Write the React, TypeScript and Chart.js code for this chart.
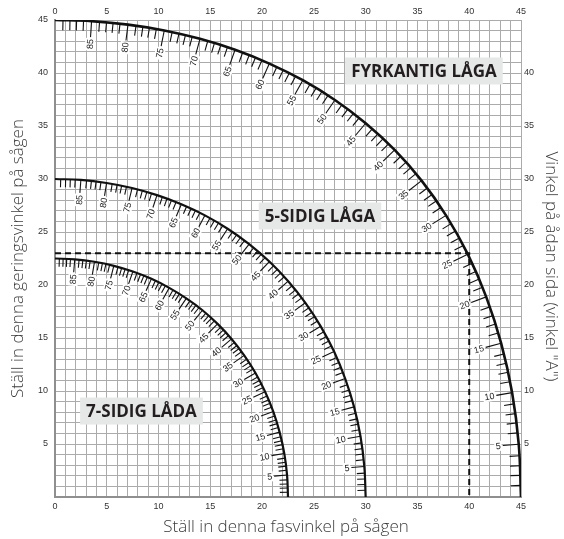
import { useEffect, useRef } from 'react';
import { Chart, registerables } from 'chart.js';

Chart.register(...registerables);

// Side angle "A" (degrees) for each read point along the curves
const sideAngles = [0, 5, 10, 15, 20, 25, 30, 35, 40, 45, 50, 55, 60, 65, 70, 75, 80, 85, 90];

// FYRKANTIG LÅGA (outer curve)
const squareX = [45.0, 44.78, 44.14, 43.08, 41.64, 39.86, 37.76, 35.4, 32.8, 30.0, 27.03, 23.93, 20.7, 17.39, 14.0, 10.55, 7.05, 3.53, 0];
const squareY = [0, 4.98, 9.85, 14.51, 18.88, 22.91, 26.57, 29.85, 32.74, 35.26, 37.45, 39.32, 40.89, 42.19, 43.22, 44.01, 44.56, 44.89, 45];

// 5-SIDIG LÅGA (middle curve)
const fiveX = [30, 29.87, 29.5, 28.88, 28.02, 26.95, 25.66, 24.18, 22.52, 20.7, 18.75, 16.67, 14.48, 12.2, 9.85, 7.44, 4.98, 2.5, 0];
const fiveY = [0, 2.88, 5.73, 8.5, 11.17, 13.72, 16.1, 18.32, 20.36, 22.21, 23.86, 25.31, 26.57, 27.62, 28.48, 29.15, 29.62, 29.91, 30];

// 7-SIDIG LÅDA (inner curve)
const sevenX = [22.5, 22.41, 22.14, 21.69, 21.08, 20.29, 19.36, 18.27, 17.05, 15.7, 14.24, 12.68, 11.03, 9.31, 7.52, 5.68, 3.81, 1.91, 0];
const sevenY = [0, 2.07, 4.11, 6.12, 8.06, 9.93, 11.7, 13.36, 14.91, 16.33, 17.62, 18.74, 19.73, 20.58, 21.27, 21.81, 22.19, 22.42, 22.5];

// Dashed example reading
const guideX = [0, 40, 40];
const guideY = [23, 23, 0];

// Axis tick labels
const bottomTicks = [0, 5, 10, 15, 20, 25, 30, 35, 40, 45];
const topTicks = [0, 5, 10, 15, 20, 25, 30, 35, 40, 45];
const leftTicks = [5, 10, 15, 20, 25, 30, 35, 40, 45];
const rightTicks = [5, 10, 15, 20, 25, 30, 35, 40];

// Curve names
const curveNames = ['FYRKANTIG LÅGA', '5-SIDIG LÅGA', '7-SIDIG LÅDA'];
const nameAnchorX = [35.63, 25.59, 8.35];
const nameAnchorY = [40.19, 26.51, 8.11];

const xTitle = 'Ställ in denna fasvinkel på sågen';
const yTitle = 'Ställ in denna geringsvinkel på sågen';
const y2Title = 'Vinkel på ådan sida (vinkel "A")';

const toPoints = (xs: number[], ys: number[]) => xs.map((x, i) => ({ x, y: ys[i] }));

const curveStyle = [
  { width: 2.6, minor: 10, major: 16 },
  { width: 2.2, minor: 8, major: 13 },
  { width: 2.2, minor: 8, major: 13 },
];

const gradPlugin = {
  id: 'graduations',
  afterDatasetsDraw(chart: any) {
    const ctx = chart.ctx as CanvasRenderingContext2D;
    for (let di = 0; di < 3; di++) {
      const meta = chart.getDatasetMeta(di);
      const pts = meta.data as any[];
      const st = curveStyle[di];
      ctx.save();
      ctx.strokeStyle = '#111';
      ctx.lineWidth = 1.1;
      for (let i = 0; i < pts.length - 1; i++) {
        const p0 = pts[i];
        const p3 = pts[i + 1];
        const c1 = { x: p0.cp2x ?? p0.x, y: p0.cp2y ?? p0.y };
        const c2 = { x: p3.cp1x ?? p3.x, y: p3.cp1y ?? p3.y };
        for (let k = 0; k < 5; k++) {
          if (i === 0 && k === 0) continue;
          const t = k / 5;
          const u = 1 - t;
          const px = u * u * u * p0.x + 3 * u * u * t * c1.x + 3 * u * t * t * c2.x + t * t * t * p3.x;
          const py = u * u * u * p0.y + 3 * u * u * t * c1.y + 3 * u * t * t * c2.y + t * t * t * p3.y;
          let dx = 3 * u * u * (c1.x - p0.x) + 6 * u * t * (c2.x - c1.x) + 3 * t * t * (p3.x - c2.x);
          let dy = 3 * u * u * (c1.y - p0.y) + 6 * u * t * (c2.y - c1.y) + 3 * t * t * (p3.y - c2.y);
          let len = Math.hypot(dx, dy);
          if (len < 1e-6) {
            dx = p3.x - p0.x;
            dy = p3.y - p0.y;
            len = Math.hypot(dx, dy);
          }
          const nx = dy / len;
          const ny = -dx / len;
          const isMajor = k === 0;
          const L = isMajor ? st.major : st.minor;
          ctx.beginPath();
          ctx.moveTo(px, py);
          ctx.lineTo(px + nx * L, py + ny * L);
          ctx.stroke();
          if (isMajor) {
            const label = String(sideAngles[i]);
            const ox = px + nx * (L + 2);
            const oy = py + ny * (L + 2);
            const ang = Math.atan2(-ny, -nx);
            ctx.save();
            ctx.translate(ox, oy);
            ctx.rotate(ang);
            ctx.font = '9px "Liberation Sans", Arial, sans-serif';
            const w = ctx.measureText(label).width;
            ctx.fillStyle = '#fff';
            ctx.fillRect(-w - 1.5, -5, w + 2.5, 10);
            ctx.fillStyle = '#222';
            ctx.textAlign = 'right';
            ctx.textBaseline = 'middle';
            ctx.fillText(label, 0, 0.5);
            ctx.restore();
          }
        }
      }
      ctx.restore();
    }
  },
};

const namePlugin = {
  id: 'curveNames',
  beforeDatasetsDraw(chart: any) {
    const ctx = chart.ctx as CanvasRenderingContext2D;
    const xs = chart.scales.x;
    const ys = chart.scales.y;
    ctx.save();
    ctx.font = 'bold 17px "Open Sans", "Liberation Sans", sans-serif';
    curveNames.forEach((name, i) => {
      const cx = xs.getPixelForValue(nameAnchorX[i]);
      const cy = ys.getPixelForValue(nameAnchorY[i]);
      const w = ctx.measureText(name).width;
      const bw = w + 12;
      const bh = 27;
      ctx.fillStyle = '#e6e7e7';
      ctx.fillRect(cx - bw / 2, cy - bh / 2, bw, bh);
      ctx.fillStyle = '#231f20';
      ctx.textAlign = 'center';
      ctx.textBaseline = 'middle';
      ctx.fillText(name, cx, cy + 1);
    });
    ctx.restore();
  },
};

const titlePlugin = {
  id: 'axisTitles',
  afterDraw(chart: any) {
    const ctx = chart.ctx as CanvasRenderingContext2D;
    const area = chart.chartArea;
    ctx.save();
    ctx.fillStyle = '#3c3c3c';
    ctx.font = '300 17px "Open Sans", "Liberation Sans", sans-serif';
    ctx.textAlign = 'center';
    ctx.textBaseline = 'middle';
    ctx.fillText(xTitle, (area.left + area.right) / 2 - 2, 527);
    ctx.save();
    ctx.translate(18, (area.top + area.bottom) / 2);
    ctx.rotate(-Math.PI / 2);
    ctx.fillText(yTitle, 0, 0);
    ctx.restore();
    ctx.save();
    ctx.translate(551, (area.top + area.bottom) / 2 + 8);
    ctx.rotate(Math.PI / 2);
    ctx.fillText(y2Title, 0, 0);
    ctx.restore();
    ctx.restore();
  },
};

const gridColor = '#ababab';
const tickFont = { size: 9, family: '"Liberation Sans", Arial, sans-serif' };

export default function App() {
  const ref = useRef<HTMLCanvasElement | null>(null);
  useEffect(() => {
    document.body.style.margin = '0';
    if (!ref.current) return;
    const labelCb = (list: number[]) => (v: any) => (list.includes(Number(v)) ? String(v) : '');
    const chart = new Chart(ref.current, {
      type: 'scatter',
      data: {
        datasets: [
          { data: toPoints(squareX, squareY), showLine: true, borderColor: '#111', borderWidth: curveStyle[0].width, pointRadius: 0, tension: 0.4, fill: false },
          { data: toPoints(fiveX, fiveY), showLine: true, borderColor: '#111', borderWidth: curveStyle[1].width, pointRadius: 0, tension: 0.4, fill: false },
          { data: toPoints(sevenX, sevenY), showLine: true, borderColor: '#111', borderWidth: curveStyle[2].width, pointRadius: 0, tension: 0.4, fill: false },
          { data: toPoints(guideX, guideY), showLine: true, borderColor: '#111', borderWidth: 2, borderDash: [6, 4], pointRadius: 0, tension: 0, fill: false },
        ],
      },
      options: {
        responsive: false,
        animation: false,
        events: [],
        layout: { padding: 0 },
        plugins: { legend: { display: false }, tooltip: { enabled: false } },
        scales: {
          x: {
            type: 'linear', position: 'bottom', min: 0, max: 45,
            afterFit: (s: any) => { s.height = 42; },
            ticks: { stepSize: 1, autoSkip: false, maxRotation: 0, padding: 4, color: '#333', font: tickFont, callback: labelCb(bottomTicks) },
            grid: { color: gridColor, lineWidth: 1, drawTicks: false },
            border: { display: true, color: '#8f8f8f', width: 2 },
          },
          x2: {
            type: 'linear', position: 'top', min: 0, max: 45,
            afterFit: (s: any) => { s.height = 20; },
            ticks: { stepSize: 1, autoSkip: false, maxRotation: 0, padding: 3, color: '#333', font: tickFont, callback: labelCb(topTicks) },
            grid: { display: false, drawTicks: false },
            border: { display: false },
          },
          y: {
            type: 'linear', position: 'left', min: 0, max: 45,
            afterFit: (s: any) => { s.width = 55; },
            ticks: { stepSize: 1, autoSkip: false, padding: 7, color: '#333', font: tickFont, callback: labelCb(leftTicks) },
            grid: { color: gridColor, lineWidth: 1, drawTicks: false },
            border: { display: true, color: '#8f8f8f', width: 2 },
          },
          y2: {
            type: 'linear', position: 'right', min: 0, max: 45,
            afterFit: (s: any) => { s.width = 43; },
            ticks: { stepSize: 1, autoSkip: false, padding: 3, color: '#333', font: tickFont, callback: labelCb(rightTicks) },
            grid: { display: false, drawTicks: false },
            border: { display: false },
          },
        },
      } as any,
      plugins: [namePlugin, gradPlugin, titlePlugin],
    });
    return () => chart.destroy();
  }, []);
  return (
    <div style={{ width: 564, height: 539 }}>
      <canvas ref={ref} width={564} height={539} />
    </div>
  );
}
